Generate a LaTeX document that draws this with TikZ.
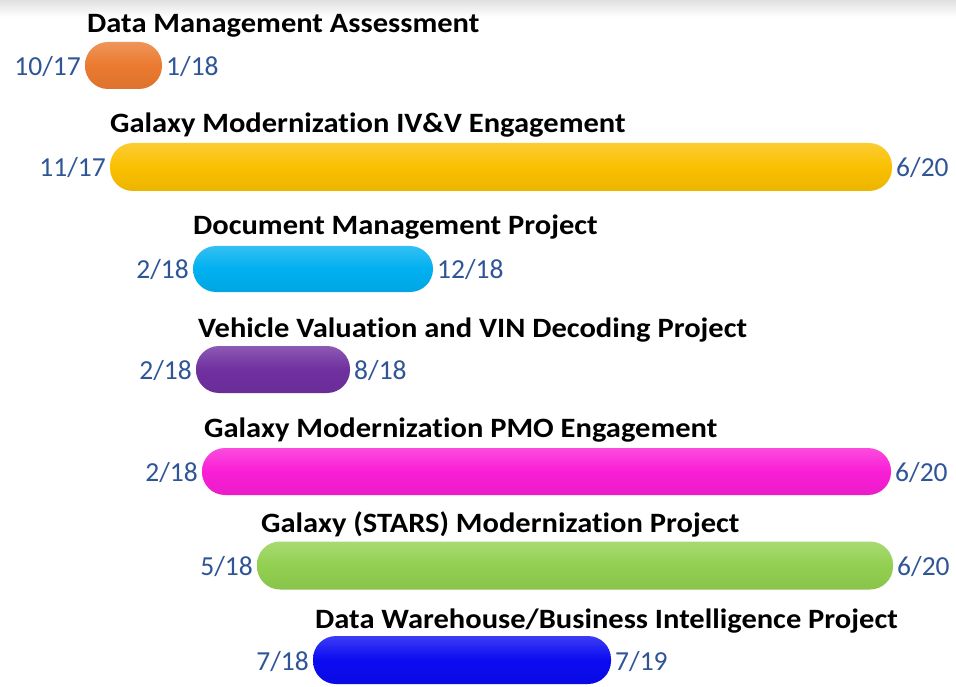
\documentclass[tikz,border=0pt]{standalone}
\usepackage{fontspec}
\setmainfont[Ligatures=NoCommon]{Carlito}
\newfontfamily\titlefont[FakeStretch=1.09,Ligatures=NoCommon]{Carlito}
\definecolor{datecol}{HTML}{2F5597}
\definecolor{cOrange}{HTML}{EB7A30}
\definecolor{cYellow}{HTML}{FAC000}
\definecolor{cCyan}{HTML}{00B0F0}
\definecolor{cPurple}{HTML}{7030A0}
\definecolor{cMagenta}{HTML}{FA1ED6}
\definecolor{cGreen}{HTML}{92D050}
\definecolor{cBlue}{HTML}{0B0BF2}
\begin{document}
\begin{tikzpicture}[x=1pt,y=-1pt,
  bartitle/.style={anchor=base west, inner sep=0pt, font=\titlefont\fontsize{28}{32}\selectfont\bfseries},
  datelbl/.style={inner sep=0pt, text=datecol, font=\fontsize{27.5}{32}\selectfont},
  ganttbar/.style={draw=none, inner sep=0pt, outer sep=0pt, rounded corners=23pt,
    top color=#1!80!white, bottom color=#1!94!black, middle color=#1}]
\useasboundingbox (0,0) rectangle (956,687);
\fill[white] (0,0) rectangle (956,687);
\shade[top color=black!12, bottom color=white] (0,0) rectangle (956,17);

% Row 1
\node[bartitle] (t1) at (87,33) {Data Management Assessment};
\node[ganttbar=cOrange, minimum width=77pt, minimum height=47pt] (b1) at (123.5,65.5) {};
\node[datelbl, anchor=base east] (l1) at ([xshift=-4pt,yshift=-10pt]b1.west) {10/17};
\node[datelbl, anchor=base west] (r1) at ([xshift=4pt,yshift=-10pt]b1.east) {1/18};

% Row 2
\node[bartitle] (t2) at (110,133) {Galaxy Modernization IV\&V Engagement};
\node[ganttbar=cYellow, minimum width=782pt, minimum height=48pt] (b2) at (501,167) {};
\node[datelbl, anchor=base east] (l2) at ([xshift=-4pt,yshift=-10pt]b2.west) {11/17};
\node[datelbl, anchor=base west] (r2) at ([xshift=4pt,yshift=-10pt]b2.east) {6/20};

% Row 3
\node[bartitle] (t3) at (193,235) {Document Management Project};
\node[ganttbar=cCyan, minimum width=240pt, minimum height=46pt] (b3) at (313,269) {};
\node[datelbl, anchor=base east] (l3) at ([xshift=-4pt,yshift=-10pt]b3.west) {2/18};
\node[datelbl, anchor=base west] (r3) at ([xshift=4pt,yshift=-10pt]b3.east) {12/18};

% Row 4
\node[bartitle] (t4) at (198,337) {Vehicle Valuation and VIN Decoding Project};
\node[ganttbar=cPurple, minimum width=154pt, minimum height=47pt] (b4) at (273,369.5) {};
\node[datelbl, anchor=base east] (l4) at ([xshift=-4pt,yshift=-10pt]b4.west) {2/18};
\node[datelbl, anchor=base west] (r4) at ([xshift=4pt,yshift=-10pt]b4.east) {8/18};

% Row 5
\node[bartitle] (t5) at (204,437) {Galaxy Modernization PMO Engagement};
\node[ganttbar=cMagenta, minimum width=689pt, minimum height=47pt] (b5) at (546.5,471.5) {};
\node[datelbl, anchor=base east] (l5) at ([xshift=-4pt,yshift=-10pt]b5.west) {2/18};
\node[datelbl, anchor=base west] (r5) at ([xshift=4pt,yshift=-10pt]b5.east) {6/20};

% Row 6
\node[bartitle] (t6) at (261,532) {Galaxy (STARS) Modernization Project};
\node[ganttbar=cGreen, minimum width=636pt, minimum height=48pt] (b6) at (575,565.5) {};
\node[datelbl, anchor=base east] (l6) at ([xshift=-4pt,yshift=-10pt]b6.west) {5/18};
\node[datelbl, anchor=base west] (r6) at ([xshift=4pt,yshift=-10pt]b6.east) {6/20};

% Row 7
\node[bartitle] (t7) at (315,628) {Data Warehouse/Business Intelligence Project};
\node[ganttbar=cBlue, minimum width=298pt, minimum height=48pt] (b7) at (462,660) {};
\node[datelbl, anchor=base east] (l7) at ([xshift=-4pt,yshift=-10pt]b7.west) {7/18};
\node[datelbl, anchor=base west] (r7) at ([xshift=4pt,yshift=-10pt]b7.east) {7/19};
\end{tikzpicture}
\end{document}
